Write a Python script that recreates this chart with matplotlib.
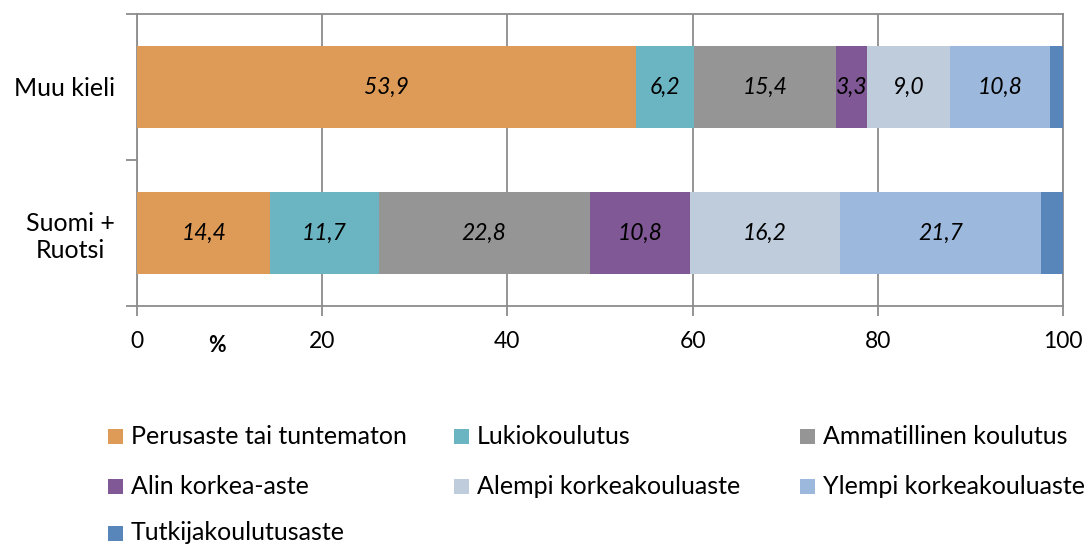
import matplotlib
matplotlib.use("Agg")
import matplotlib.pyplot as plt
from matplotlib.patches import Rectangle

plt.rcParams['font.family'] = ['Lato', 'DejaVu Sans']

categories = ["Muu kieli", "Suomi +\nRuotsi"]
series_names = [
    "Perusaste tai tuntematon",
    "Lukiokoulutus",
    "Ammatillinen koulutus",
    "Alin korkea-aste",
    "Alempi korkeakouluaste",
    "Ylempi korkeakouluaste",
    "Tutkijakoulutusaste",
]
muu_kieli = [53.9, 6.2, 15.4, 3.3, 9.0, 10.8, 1.4]
suomi_ruotsi = [14.4, 11.7, 22.8, 10.8, 16.2, 21.7, 2.4]
labelled = [True, True, True, True, True, True, False]
colors = ["#DE9B57", "#6BB5C3", "#959595", "#7F5895", "#BFCCDC", "#9CB8DC", "#5886BA"]
x_ticks = [0, 20, 40, 60, 80, 100]

values = [muu_kieli, suomi_ruotsi]
ypos = [1, 0]

W, H = 1088, 546
fig = plt.figure(figsize=(W / 100, H / 100), dpi=100)
ax = fig.add_axes([137 / W, 1 - 306 / H, (1063 - 137) / W, (306 - 14) / H])

grid_c = "#8C8C8C"
for s, name in enumerate(series_names):
    for row, y in zip(values, ypos):
        left = sum(row[:s])
        ax.barh(y, row[s], left=left, height=0.555, color=colors[s], zorder=3)
        if labelled[s]:
            ax.text(left + row[s] / 2, y, f"{row[s]:.1f}".replace(".", ","),
                    ha="center", va="center", style="italic", fontsize=16.5,
                    color="black", zorder=4)

ax.set_xlim(0, 100)
ax.set_ylim(-0.5, 1.5)
ax.set_xticks(x_ticks)
ax.set_xticklabels([str(t) for t in x_ticks], fontsize=16.5)
ax.tick_params(axis="x", length=7, width=1.3, color=grid_c, pad=11)
ax.grid(axis="x", color=grid_c, linewidth=1.3, zorder=0)
ax.set_yticks(ypos)
ax.set_yticklabels(categories, fontsize=18, multialignment="center")
ax.tick_params(axis="y", length=0, pad=16)
ax.set_yticks([-0.5, 0.5, 1.5], minor=True)
ax.tick_params(axis="y", which="minor", length=8, width=1.3, color=grid_c)
for sp in ax.spines.values():
    sp.set_color(grid_c)
    sp.set_linewidth(1.3)

fig.text(217 / W, 1 - 345 / H, "%", fontsize=15.5, fontweight="bold",
         ha="center", va="center")

# legend laid out in three columns
col_x = [108, 454, 800]
row_y = [436, 486, 533]
box = 15
for i, name in enumerate(series_names):
    r, c = divmod(i, 3)
    mx, my = col_x[c], row_y[r]
    fig.patches.append(Rectangle((mx / W, 1 - (my + box / 2) / H), box / W, box / H,
                                 transform=fig.transFigure, facecolor=colors[i],
                                 edgecolor="none"))
    fig.text((mx + box + 8) / W, 1 - my / H, name, fontsize=18, ha="left", va="center")

fig.savefig("out.png", dpi=100)
